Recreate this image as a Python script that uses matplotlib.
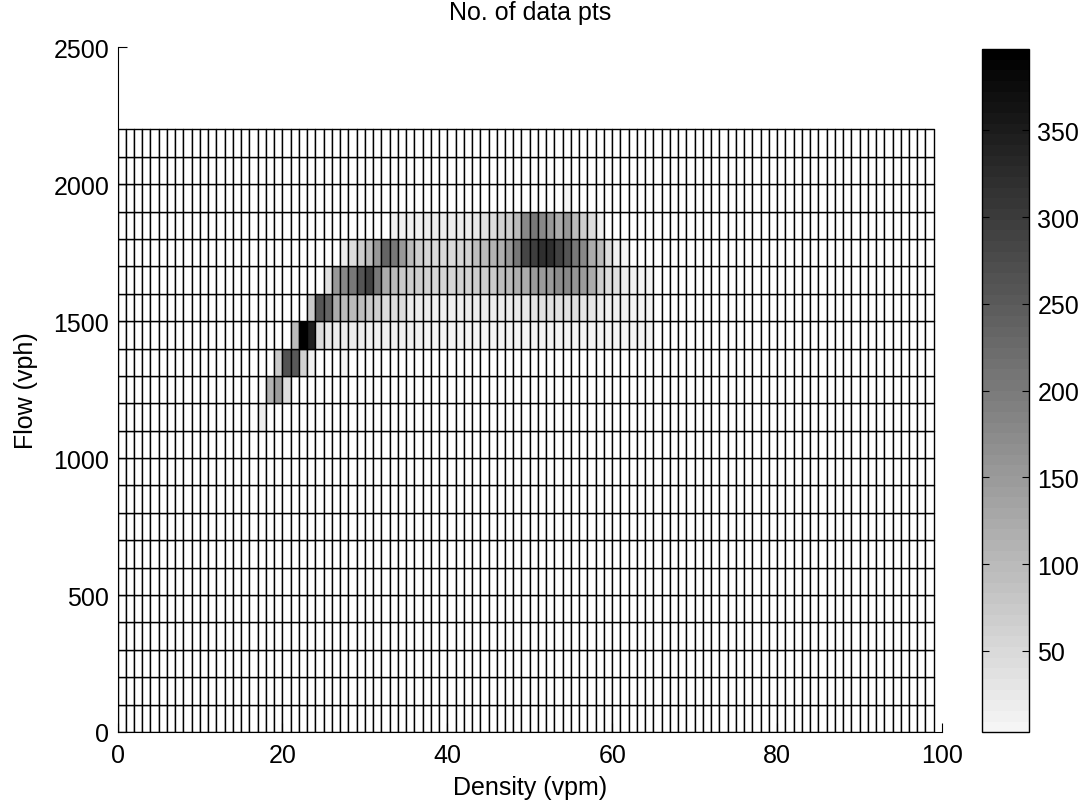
import numpy as np
import matplotlib
matplotlib.use('Agg')
import matplotlib.pyplot as plt
from matplotlib.colors import ListedColormap, Normalize

# ---------------- data ----------------
density_edges = np.arange(0, 100, 1)      # cell edges along x (vpm)
flow_edges = np.arange(0, 2300, 100)      # cell edges along y (vph)

# counts per flow row: (first density bin, counts from that bin on)
row_1100 = (17, [18])
row_1200 = (18, [110, 150, 40])
row_1300 = (19, [75, 265, 250, 60, 15, 0, 0, 0, 8])
row_1400 = (21, [100, 397, 342, 45, 22, 20, 18, 18, 16,
                 12, 12, 11, 11, 10, 10, 10,
                 8, 8, 7, 7, 7, 8, 8, 8, 9, 9, 9, 9, 9, 8, 8, 8, 7, 7, 7, 6,
                 6, 6, 5, 5, 5, 4, 4, 3])
row_1500 = (23, [75, 260, 233, 123, 100, 100, 95, 75, 70, 45, 42, 40,
                 18, 16, 16, 15, 15, 15, 15, 16, 18,
                 18, 18, 20, 20, 22, 25, 28,
                 35, 38, 38, 36, 35, 32, 28,
                 18, 15, 14, 12, 7, 6, 5])
row_1600 = (25, [38, 151, 178, 205, 260, 288, 205, 123, 96, 75, 70, 68,
                 60, 55, 55, 55, 60, 62, 68, 70, 72, 92, 96, 118, 125,
                 145, 150, 150, 175, 180, 160, 150, 123, 69, 45, 38,
                 18, 14, 7, 5])
row_1700 = (27, [16, 41, 69, 96, 151, 233, 205, 151, 96, 69,
                 55, 50, 50, 50, 55, 60, 92, 100, 110, 118, 151, 205,
                 285, 295, 320, 318, 288, 260, 205, 178, 123, 96, 41, 14, 5])
row_1800 = (33, [12, 14, 15, 15, 16, 16, 16, 16, 18, 20, 22, 38, 42, 62, 70,
                 96, 178, 205, 178, 151, 123, 151, 96, 69, 41, 14])
row_1900 = (54, [5])

flow_rows = [1100, 1200, 1300, 1400, 1500, 1600, 1700, 1800, 1900]
row_counts = [row_1100, row_1200, row_1300, row_1400, row_1500,
              row_1600, row_1700, row_1800, row_1900]

x_ticks = [0, 20, 40, 60, 80, 100]
y_ticks = [0, 500, 1000, 1500, 2000, 2500]
cbar_ticks = [50, 100, 150, 200, 250, 300, 350]

# ---------------- build matrix ----------------
C = np.zeros((len(flow_edges) - 1, len(density_edges) - 1))
for flow, (start, vals) in zip(flow_rows, row_counts):
    r = flow // 100
    C[r, start:start + len(vals)] = vals
Cm = np.ma.masked_equal(C, 0)

plt.rcParams['font.family'] = ['Liberation Sans', 'DejaVu Sans']
plt.rcParams['font.size'] = 18

fig = plt.figure(figsize=(10.81, 8.03), dpi=100)
ax = fig.add_axes([0.1087, 0.0872, 0.7627, 0.8527])
cax = fig.add_axes([0.9081, 0.0868, 0.0438, 0.851])

g = np.linspace(0.96, 0.0, 64)
cmap = ListedColormap(np.column_stack([g, g, g]))
cmap.set_bad('white')
norm = Normalize(vmin=Cm.min(), vmax=Cm.max())

mesh = ax.pcolormesh(density_edges, flow_edges, Cm, cmap=cmap, norm=norm,
                     edgecolors='black', linewidth=1.0, antialiased=True)

ax.set_xlim(0, 100)
ax.set_ylim(0, 2500)
ax.set_xticks(x_ticks)
ax.set_yticks(y_ticks)
for s in ['top', 'right']:
    ax.spines[s].set_visible(False)
for s in ['left', 'bottom']:
    ax.spines[s].set_linewidth(0.8)
ax.tick_params(direction='in', length=6.5, width=0.8, pad=6)
ax.tick_params(axis='x', pad=8)

ax.set_xlabel('Density (vpm)')
ax.set_ylabel('Flow (vph)')
ax.xaxis.set_label_coords(0.5, -0.063)
ax.yaxis.set_label_coords(-0.097, 0.5)
ax.set_title('No. of data pts', fontsize=18, pad=20)

cb = fig.colorbar(mesh, cax=cax, ticks=cbar_ticks)
cb.outline.set_linewidth(1.0)
cax.tick_params(direction='in', left=True, right=True, length=5, width=0.8, pad=6)

fig.savefig('out.png', dpi=100)
